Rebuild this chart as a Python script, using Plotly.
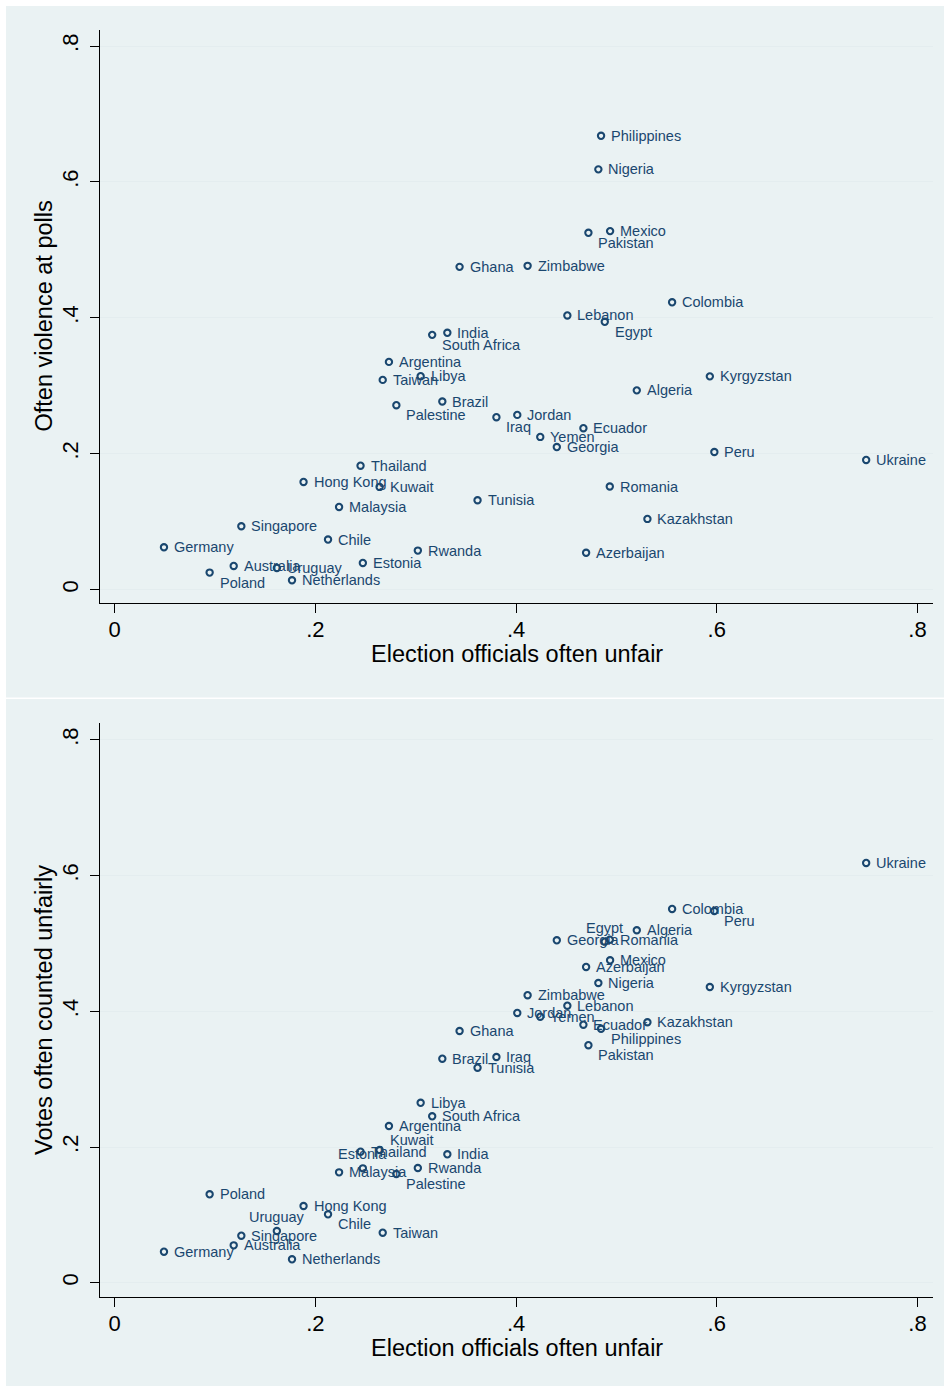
import plotly.graph_objects as go

# Country-level shares of respondents
countries = [
    "Philippines", "Nigeria", "Pakistan", "Mexico", "Ghana", "Zimbabwe", "Colombia",
    "Lebanon", "Egypt", "India", "South Africa", "Argentina", "Libya", "Taiwan",
    "Kyrgyzstan", "Algeria", "Brazil", "Palestine", "Jordan", "Iraq", "Ecuador",
    "Yemen", "Georgia", "Peru", "Ukraine", "Thailand", "Hong Kong", "Kuwait",
    "Romania", "Tunisia", "Malaysia", "Kazakhstan", "Singapore", "Chile", "Germany",
    "Rwanda", "Azerbaijan", "Estonia", "Australia", "Uruguay", "Poland", "Netherlands",
]

officials_unfair = [
    0.4847, 0.4820, 0.4721, 0.4937, 0.3437, 0.4115, 0.5555,
    0.4511, 0.4884, 0.3315, 0.3164, 0.2733, 0.3049, 0.2671,
    0.5931, 0.5203, 0.3265, 0.2807, 0.4012, 0.3804, 0.4671,
    0.4241, 0.4406, 0.5976, 0.7489, 0.2450, 0.1882, 0.2640,
    0.4934, 0.3616, 0.2236, 0.5309, 0.1262, 0.2126, 0.0491,
    0.3021, 0.4698, 0.2473, 0.1186, 0.1616, 0.0946, 0.1767,
]

violence_at_polls = [
    0.6679, 0.6185, 0.5251, 0.5276, 0.4750, 0.4765, 0.4228,
    0.4035, 0.3941, 0.3779, 0.3749, 0.3351, 0.3141, 0.3086,
    0.3138, 0.2932, 0.2768, 0.2714, 0.2571, 0.2537, 0.2375,
    0.2247, 0.2098, 0.2025, 0.1908, 0.1823, 0.1584, 0.1511,
    0.1517, 0.1315, 0.1216, 0.1040, 0.0932, 0.0736, 0.0623,
    0.0574, 0.0542, 0.0392, 0.0348, 0.0318, 0.0250, 0.0137,
]

votes_counted_unfairly = [
    0.3743, 0.4418, 0.3501, 0.4752, 0.3710, 0.4238, 0.5509,
    0.4083, 0.5027, 0.1893, 0.2453, 0.2310, 0.2652, 0.0737,
    0.4359, 0.5195, 0.3302, 0.1602, 0.3976, 0.3327, 0.3803,
    0.3921, 0.5047, 0.5479, 0.6187, 0.1931, 0.1131, 0.1956,
    0.5056, 0.3169, 0.1627, 0.3839, 0.0693, 0.1008, 0.0457,
    0.1691, 0.4654, 0.1686, 0.0551, 0.0762, 0.1303, 0.0345,
]

# Marker-label clock positions (3 = right, 4 = lower right, 12 = above, 1 = upper right)
clock_top = {"Pakistan": 4, "Egypt": 4, "South Africa": 4, "Palestine": 4,
             "Iraq": 4, "Poland": 4}
clock_bottom = {"Peru": 4, "Philippines": 4, "Pakistan": 4, "Palestine": 4,
                "Chile": 4, "Egypt": 12, "Estonia": 12, "Uruguay": 12, "Kuwait": 1}

y_ticks = [0, 0.2, 0.4, 0.6, 0.8]
y_tick_text = ["0", ".2", ".4", ".6", ".8"]
x_ticks = [0, 0.2, 0.4, 0.6, 0.8]
x_tick_text = ["0", ".2", ".4", ".6", ".8"]

NAVY = "#1A476F"
PANEL = "#EAF2F3"
GRID = "#E4EDEF"
FONT = "Liberation Sans, Arial, Helvetica, sans-serif"

# label offsets in pixels for each clock position: (xanchor, xshift, yshift)
CLOCK_OFFSET = {3: ("left", 9, 0), 4: ("left", 9, -10),
                12: ("center", 0, 14), 1: ("left", 9, 10)}

W, H = 944, 1386


def px(v):
    return v / W


def py(v):
    return 1 - v / H


fig = go.Figure()


def add_panel(yvals, clock, xaxis, yaxis):
    fig.add_trace(go.Scatter(
        x=officials_unfair, y=yvals, mode="markers",
        marker=dict(symbol="circle-open", size=6.3, color=NAVY,
                    line=dict(width=2.1, color=NAVY)),
        xaxis=xaxis, yaxis=yaxis, showlegend=False, hoverinfo="skip",
        cliponaxis=False,
    ))
    for name, xv, yv in zip(countries, officials_unfair, yvals):
        anchor, dx, dy = CLOCK_OFFSET[clock.get(name, 3)]
        fig.add_annotation(
            text=name, x=xv, y=yv, xref=xaxis, yref=yaxis, showarrow=False,
            xanchor=anchor, yanchor="middle", xshift=dx, yshift=dy, borderpad=0,
            font=dict(family=FONT, size=14.5, color=NAVY),
        )


add_panel(violence_at_polls, clock_top, "x", "y")
add_panel(votes_counted_unfairly, clock_bottom, "x2", "y2")

axis_common = dict(
    showline=True, linecolor="black", linewidth=1.2, mirror=False,
    ticks="outside", ticklen=9, tickwidth=1.2, tickcolor="black",
    tickfont=dict(family=FONT, size=22, color="black"),
    zeroline=False,
)

x_dom = [px(100), px(933)]
x_range = [-0.01465, 0.8155]

xaxis_style = dict(domain=x_dom, range=x_range, tickvals=x_ticks, ticktext=x_tick_text,
                   showgrid=False, ticklabelstandoff=-3, **axis_common)
yaxis_style = dict(tickvals=y_ticks, ticktext=y_tick_text, tickangle=-90,
                   showgrid=True, gridcolor=GRID, gridwidth=1.4, ticklabelstandoff=3,
                   **axis_common)

fig.update_layout(
    width=W, height=H, autosize=False,
    margin=dict(l=0, r=0, t=0, b=0),
    paper_bgcolor="white", plot_bgcolor="white",
    xaxis=dict(anchor="y", **xaxis_style),
    yaxis=dict(domain=[py(603.3), py(30)], range=[-0.0202, 0.8236], anchor="x",
               **yaxis_style),
    xaxis2=dict(anchor="y2", **xaxis_style),
    yaxis2=dict(domain=[py(1297.3), py(723)], range=[-0.0215, 0.825], anchor="x2",
                **yaxis_style),
)

# Light graph-region panels behind each plot
for top, bottom in [(6, 697.5), (699, 1386)]:
    fig.add_shape(type="rect", xref="paper", yref="paper",
                  x0=px(6), x1=1, y0=py(bottom), y1=py(top),
                  fillcolor=PANEL, line=dict(width=0), layer="below")

# Axis titles
title_font = dict(family=FONT, size=23.5, color="black")
for ytxt, ycen, xt_y in [("Often violence at polls", 316.5, 654),
                         ("Votes often counted unfairly", 1010, 1348)]:
    fig.add_annotation(text="Election officials often unfair", xref="paper", yref="paper",
                       x=px(516.5), y=py(xt_y), showarrow=False, font=title_font,
                       xanchor="center", yanchor="middle")
    fig.add_annotation(text=ytxt, xref="paper", yref="paper", x=px(44), y=py(ycen),
                       showarrow=False, font=title_font, textangle=-90,
                       xanchor="center", yanchor="middle")

fig.write_html("out.html")
